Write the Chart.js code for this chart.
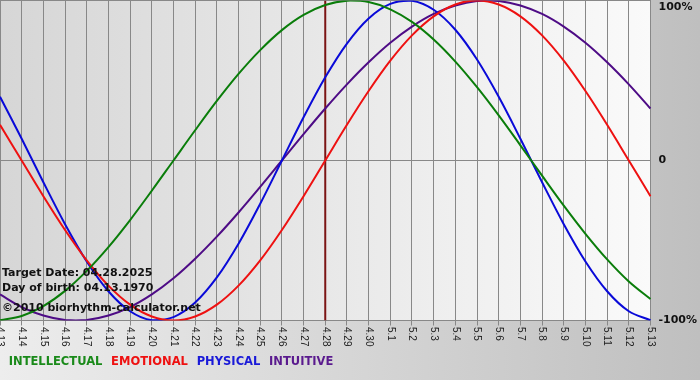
<!DOCTYPE html>
<html><head><meta charset="utf-8">
<script src="https://cdn.jsdelivr.net/npm/chart.js@4.4.1/dist/chart.umd.min.js"></script>
<style>html,body{margin:0;padding:0;background:#fff;overflow:hidden}canvas{display:block}</style>
</head><body>
<canvas id="c" width="700" height="380"></canvas>
<script>
const dates = ['4.13','4.14','4.15','4.16','4.17','4.18','4.19','4.20','4.21','4.22','4.23','4.24','4.25','4.26','4.27','4.28','4.29','4.30',
  '5.1','5.2','5.3','5.4','5.5','5.6','5.7','5.8','5.9','5.10','5.11','5.12','5.13'];
const intellectual = [-0.999,-0.972,-0.910,-0.815,-0.690,-0.541,-0.372,-0.189,0,0.189,0.372,0.541,0.690,0.815,0.910,0.972,0.999,0.990,
  0.945,0.866,0.756,0.618,0.458,0.282,0.095,-0.095,-0.282,-0.458,-0.618,-0.756,-0.866];
const emotional = [0.223,0,-0.223,-0.434,-0.624,-0.782,-0.901,-0.975,-1,-0.975,-0.901,-0.782,-0.624,-0.434,-0.223,0,0.223,0.434,
  0.624,0.782,0.901,0.975,1,0.975,0.901,0.782,0.624,0.434,0.223,0,-0.223];
const physical = [0.398,0.136,-0.136,-0.398,-0.631,-0.817,-0.942,-0.998,-0.979,-0.888,-0.731,-0.520,-0.270,0,0.270,0.520,0.731,0.888,
  0.979,0.998,0.942,0.817,0.631,0.398,0.136,-0.136,-0.398,-0.631,-0.817,-0.942,-0.998];
const intuitive = [-0.837,-0.916,-0.969,-0.997,-0.997,-0.969,-0.916,-0.837,-0.736,-0.614,-0.476,-0.325,-0.165,0,0.165,0.325,0.476,0.614,
  0.736,0.837,0.916,0.969,0.997,0.997,0.969,0.916,0.837,0.736,0.614,0.476,0.325];
const targetDate = '4.28';
const seriesNames = ['INTELLECTUAL','EMOTIONAL','PHYSICAL','INTUITIVE'];
const yTickValues = [-1, 0, 1];
const yTickLabels = ['-100%', '0', '100%'];
const infoLines = ['Target Date: 04.28.2025', 'Day of birth: 04.13.1970', '\u00A92010 biorhythm-calculator.net'];

const lineColors = ['#0a7d0a', '#ee1111', '#0a0ad8', '#4e0c86'];
const legendColors = ['#1a8a1a', '#ee1111', '#1a1ad8', '#5a1a8e'];
const boldFont = {family: '"DejaVu Sans", Verdana, sans-serif', size: 11, weight: 'bold'};
const legendFont = {family: '"DejaVu Sans", Verdana, sans-serif', size: 11.5, weight: 'bold'};

const bgPlugin = {
  id: 'bg',
  beforeDraw(chart) {
    const {ctx, chartArea: a, width, height} = chart;
    ctx.save();
    let g = ctx.createLinearGradient(0, 0, width, 0);
    g.addColorStop(0, '#ededed'); g.addColorStop(1, '#bfbfbf');
    ctx.fillStyle = g; ctx.fillRect(0, 0, width, height);
    g = ctx.createLinearGradient(a.left, 0, a.right, 0);
    g.addColorStop(0, '#d6d6d6'); g.addColorStop(1, '#fafafa');
    ctx.fillStyle = g; ctx.fillRect(a.left, a.top, a.right - a.left, a.bottom - a.top);
    ctx.restore();
  }
};
const xLabelPlugin = {
  id: 'xlabels',
  afterDraw(chart) {
    const xs = chart.scales.x, ctx = chart.ctx;
    ctx.save();
    ctx.font = '10px "Liberation Sans", Arial, sans-serif';
    ctx.fillStyle = '#222';
    ctx.textAlign = 'left'; ctx.textBaseline = 'middle';
    xs.ticks.forEach((t, i) => {
      const x = xs.getPixelForTick(i);
      ctx.save(); ctx.translate(x, xs.top + 6.5); ctx.rotate(Math.PI / 2);
      ctx.fillText(xs.getLabelForValue(t.value), 0, 0);
      ctx.restore();
    });
    ctx.restore();
  }
};
const infoPlugin = {
  id: 'info',
  afterDatasetsDraw(chart) {
    const ctx = chart.ctx;
    ctx.save();
    ctx.font = 'bold 11px "DejaVu Sans", Verdana, sans-serif';
    ctx.fillStyle = '#111';
    ctx.textAlign = 'left'; ctx.textBaseline = 'alphabetic';
    const ys = [276, 290.5, 310.5];
    infoLines.forEach((t, i) => ctx.fillText(t, 2, ys[i]));
    ctx.restore();
  }
};

const series = [intellectual, emotional, physical, intuitive];
const datasets = series.map((d, i) => ({
  label: seriesNames[i], data: d, borderColor: lineColors[i], borderWidth: 2,
  pointRadius: 0, tension: 0.34, fill: false
}));
datasets.push({
  label: 'target', data: [{x: targetDate, y: yTickValues[0]}, {x: targetDate, y: yTickValues[2]}],
  borderColor: '#7b1414', borderWidth: 2, pointRadius: 0, tension: 0, fill: false
});

new Chart(document.getElementById('c'), {
  type: 'line',
  data: {labels: dates, datasets},
  options: {
    responsive: false, animation: false, devicePixelRatio: 1,
    layout: {padding: {top: 0.5, left: 0, right: 0, bottom: 2.25}},
    plugins: {
      tooltip: {enabled: false},
      legend: {
        position: 'bottom', align: 'start',
        labels: {
          boxWidth: 0, boxHeight: 0, padding: 3, font: legendFont,
          generateLabels: () => seriesNames.map((n, i) => ({
            text: n, fontColor: legendColors[i], fillStyle: 'rgba(0,0,0,0)',
            strokeStyle: 'rgba(0,0,0,0)', lineWidth: 0, hidden: false, datasetIndex: i
          }))
        }
      }
    },
    scales: {
      x: {
        type: 'category', offset: false,
        grid: {color: '#888', lineWidth: 1, drawTicks: true, tickLength: 5},
        border: {color: '#888'},
        ticks: {display: false},
        afterFit(s) { s.height = 32.75; s.paddingLeft = 0; s.paddingRight = 0; }
      },
      y: {
        position: 'right', min: -1, max: 1,
        afterBuildTicks(s) { s.ticks = yTickValues.map(v => ({value: v})); },
        grid: {color: '#888', lineWidth: 1, drawTicks: false},
        border: {color: '#888'},
        ticks: {
          padding: 8, font: boldFont, color: '#111',
          callback: (v) => {
            const l = yTickLabels[yTickValues.indexOf(v)];
            return v === yTickValues[2] ? ['', l] : l;
          }
        },
        afterFit(s) { s.width = 49.5; s.paddingTop = 0; s.paddingBottom = 0; }
      }
    }
  },
  plugins: [bgPlugin, xLabelPlugin, infoPlugin]
});
</script>
</body></html>
